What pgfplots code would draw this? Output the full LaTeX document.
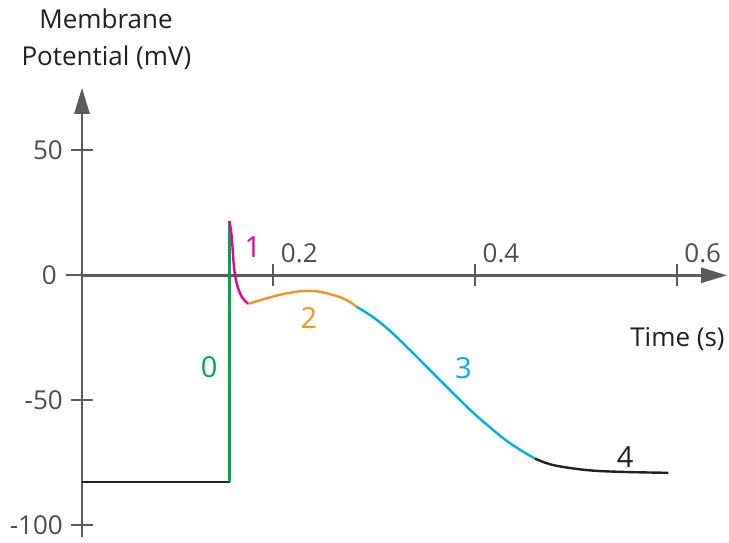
\documentclass[border=0pt]{standalone}
\usepackage{pgfplots}
\pgfplotsset{compat=1.18}
\usepackage{fontspec}
\setmainfont{Open Sans}
\usetikzlibrary{arrows.meta}

\definecolor{axisgray}{HTML}{5B5B5C}
\definecolor{txt}{HTML}{231F20}
\definecolor{ticktxt}{HTML}{4D4D4F}
\definecolor{ph0}{HTML}{00A651}
\definecolor{ph1}{HTML}{EC008C}
\definecolor{ph2}{HTML}{F7941D}
\definecolor{ph3}{HTML}{00AEEF}
\definecolor{ph4}{HTML}{231F20}

\newcommand{\lbl}{\fontsize{26}{30}\selectfont}
\newcommand{\phl}{\fontsize{29}{33}\selectfont}

\begin{document}
\begin{tikzpicture}
\begin{axis}[
  scale only axis, width=645.1pt, height=449.25pt,
  xmin=0.0103, xmax=0.65, ymin=-104.7, ymax=75,
  axis x line=middle, axis y line=left,
  axis line style={draw=axisgray, line width=2.6pt,
    -{Triangle[length=26pt,width=15pt]}},
  clip=false,
  xtick={0.2,0.4,0.6}, xticklabels={0.2,0.4,0.6},
  ytick={-100,-50,50}, yticklabels={-100,-50,50},
  extra y ticks={0}, extra y tick labels={0},
  extra y tick style={major tick length=32pt,
    yticklabel style={xshift=-1pt}},
  tick align=center, major tick length=22pt,
  tick style={draw=axisgray, line width=2pt},
  xticklabel style={font=\lbl, text=ticktxt, anchor=center,
    inner sep=0pt, xshift=26pt, yshift=33pt},
  yticklabel style={font=\lbl, text=ticktxt, anchor=east,
    inner sep=0pt, xshift=-8pt},
  every axis plot/.append style={line width=2.4pt},
]
% resting potential and upstroke
\addplot[ph4] coordinates {(0.0103,-82.6) (0.1566,-82.6)};
\addplot[ph0] coordinates {(0.1566,-82.6) (0.1566,21.7)};
% phase 1: early repolarisation
\addplot[ph1, smooth, tension=0.5] coordinates {
  (0.1566,21.7) (0.1588,15.4) (0.1610,3.4) (0.1637,-3.2)
  (0.1687,-8.6) (0.1752,-11.4)};
% phase 2: plateau
\addplot[ph2, smooth, tension=0.6] coordinates {
  (0.1752,-11.4) (0.1935,-9.2) (0.2099,-7.5) (0.2265,-6.4)
  (0.2430,-6.4) (0.2595,-7.9) (0.2728,-9.9) (0.2827,-12.6)};
% phase 3: repolarisation
\addplot[ph3, smooth, tension=0.6] coordinates {
  (0.2827,-12.6) (0.2992,-16.8) (0.3157,-22.2) (0.3323,-28.6)
  (0.3487,-35.2) (0.3653,-41.9) (0.3819,-48.6) (0.3983,-55.0)
  (0.4149,-60.8) (0.4314,-66.2) (0.4479,-70.6) (0.4595,-73.3)};
% phase 4: return to rest
\addplot[ph4, smooth, tension=0.6] coordinates {
  (0.4595,-73.3) (0.4776,-75.9) (0.5108,-77.9) (0.5438,-78.6)
  (0.5917,-79.0)};

% phase numbers
\node[text=ph0, font=\phl] at (axis cs:0.1365,-36.6) {0};
\node[text=ph1, font=\phl] at (axis cs:0.1799,11.1) {1};
\node[text=ph2, font=\phl] at (axis cs:0.2354,-17.1) {2};
\node[text=ph3, font=\phl] at (axis cs:0.3884,-37.2) {3};
\node[text=ph4, font=\phl] at (axis cs:0.5490,-72.6) {4};

% axis titles
\node[text=txt, font=\lbl, anchor=base] at (axis cs:0.0341,98.8) {Membrane};
\node[text=txt, font=\lbl, anchor=base] at (axis cs:0.0345,84.1) {Potential (mV)};
\node[text=txt, font=\lbl, anchor=base] at (axis cs:0.6008,-28.3) {Time (s)};

\coordinate (bbl) at (axis cs:-0.0710,-106.68);
\coordinate (btr) at (axis cs:0.65186,110.12);
\end{axis}
\pgfresetboundingbox
\path[use as bounding box] (bbl) rectangle (btr);
\end{tikzpicture}
\end{document}
